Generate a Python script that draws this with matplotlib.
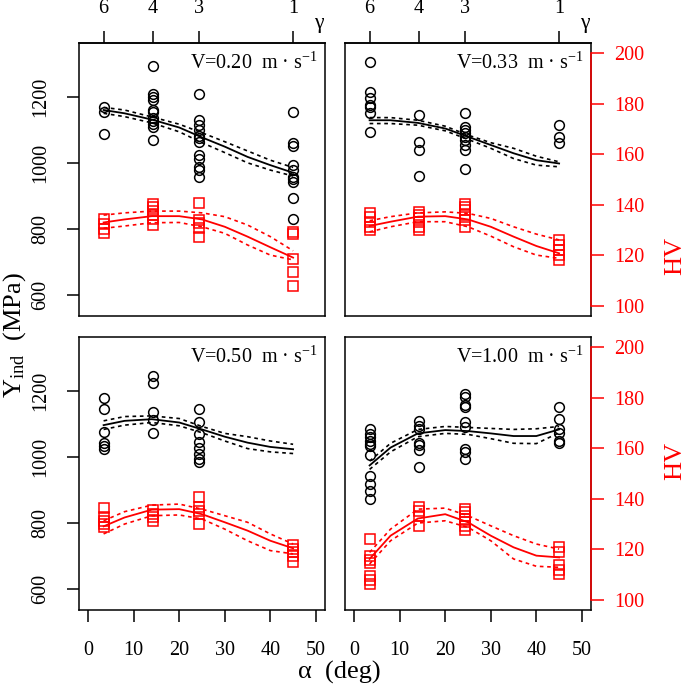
import matplotlib.pyplot as plt

plt.rcParams['font.family'] = ['Liberation Serif', 'DejaVu Serif']
plt.rcParams['mathtext.fontset'] = 'stix'

# attack angle of each indenter and matching gamma
alpha = [3.4, 14.2, 24.4, 45.0]
gamma_labels = ['6', '4', '3', '1']
fit_alpha = [3.4, 8, 14, 20, 25, 30, 35, 40, 45]
speeds = ['0.20', '0.33', '0.50', '1.00']

# ---- V = 0.20 m/s
yind_020 = [[1170, 1155, 1087],
            [1294, 1210, 1200, 1190, 1160, 1155, 1135, 1127, 1119, 1109, 1069],
            [1208, 1131, 1114, 1099, 1081, 1074, 1064, 1024, 1013, 988, 978, 958],
            [1155, 1059, 1051, 993, 978, 958, 950, 943, 894, 829]]
hv_020 = [[134.5, 132.5, 130.5, 128.8],
          [140.5, 139, 137.5, 136, 134.5, 132],
          [140.9, 133.9, 132.6, 130.7, 127.4],
          [129.3, 128.4, 118.7, 113.6, 108.0]]
yfit_020 = [1160, 1150, 1131, 1107, 1077, 1049, 1018, 993, 970]
yfit_020_hi = [1168, 1160, 1139, 1117, 1091, 1064, 1036, 1008, 986]
yfit_020_lo = [1150, 1140, 1121, 1094, 1061, 1031, 1000, 978, 960]
hvfit_020 = [133.0, 134.2, 135.5, 135.5, 134.2, 131.3, 127.4, 123.2, 119.1]
hvfit_020_hi = [135.9, 136.8, 137.5, 137.5, 136.8, 135.3, 132.0, 127.4, 121.8]
hvfit_020_lo = [130.7, 131.6, 132.9, 133.0, 131.3, 128.7, 124.1, 120.1, 118.2]

# ---- V = 0.33 m/s
yind_033 = [[1306, 1215, 1195, 1175, 1168, 1150, 1094],
            [1145, 1064, 1039, 960],
            [1152, 1109, 1099, 1089, 1079, 1069, 1054, 1039, 980],
            [1114, 1079, 1061]]
hv_033 = [[136.6, 135.3, 133.3, 131.3, 130.0],
          [137.2, 135.9, 134.6, 133.3, 131.3, 130.0],
          [140.5, 139.2, 137.9, 135.9, 133.9, 131.3],
          [126.1, 124.1, 122.1, 120.1, 118.2]]
yfit_033 = [1129, 1129, 1121, 1104, 1079, 1054, 1029, 1008, 998]
yfit_033_hi = [1137, 1137, 1129, 1111, 1084, 1061, 1044, 1020, 1003]
yfit_033_lo = [1119, 1119, 1114, 1097, 1071, 1044, 1013, 993, 988]
hvfit_033 = [131.6, 133.3, 135.3, 135.5, 134.2, 131.3, 127.4, 123.7, 120.8]
hvfit_033_hi = [133.7, 135.3, 136.8, 137.2, 136.6, 134.6, 131.3, 128.4, 126.1]
hvfit_033_lo = [129.3, 131.3, 133.3, 133.3, 131.3, 127.6, 123.4, 120.1, 118.8]

# ---- V = 0.50 m/s
yind_050 = [[1177, 1146, 1075, 1041, 1033, 1025],
            [1244, 1223, 1136, 1112, 1073],
            [1146, 1106, 1068, 1045, 1028, 1010, 992, 984],
            []]
hv_050 = [[136.3, 132.6, 131.3, 130.0, 128.7],
          [135.7, 133.9, 132.6, 131.3],
          [140.9, 136.6, 135.3, 133.9, 130.0],
          [121.7, 120.1, 118.8, 117.2, 114.9]]
yfit_050 = [1096, 1109, 1114, 1104, 1083, 1061, 1043, 1030, 1023]
yfit_050_hi = [1109, 1122, 1124, 1116, 1092, 1071, 1061, 1048, 1038]
yfit_050_lo = [1083, 1096, 1104, 1094, 1073, 1048, 1025, 1015, 1010]
hvfit_050 = [129.1, 132.6, 135.7, 135.9, 133.9, 130.7, 127.4, 123.4, 120.4]
hvfit_050_hi = [131.3, 134.9, 137.5, 137.9, 135.9, 133.3, 130.7, 126.1, 122.1]
hvfit_050_lo = [126.1, 130.0, 133.3, 133.6, 132.0, 128.0, 123.4, 119.5, 118.2]

# ---- V = 1.00 m/s
yind_100 = [[1083, 1068, 1061, 1048, 1038, 1033, 1007, 942, 919, 896, 873],
            [1109, 1094, 1085, 1043, 1035, 1021, 969],
            [1190, 1180, 1156, 1152, 1104, 1089, 1023, 1015, 994],
            [1151, 1114, 1085, 1073, 1048, 1041]]
hv_100 = [[124.1, 117.2, 115.9, 114.6, 109.6, 108.0, 106.3],
          [136.6, 135.3, 133.3, 129.3],
          [135.9, 134.6, 133.3, 132.0, 130.7, 129.3, 127.8],
          [120.8, 118.8, 113.8, 112.0, 110.3]]
yfit_100 = [974, 1028, 1071, 1081, 1078, 1071, 1063, 1063, 1083]
yfit_100_hi = [987, 1041, 1083, 1092, 1089, 1086, 1083, 1085, 1092]
yfit_100_lo = [962, 1015, 1061, 1071, 1068, 1055, 1041, 1040, 1073]
hvfit_100 = [116.2, 125.4, 132.2, 133.9, 130.7, 125.4, 120.8, 117.5, 116.8]
hvfit_100_hi = [118.8, 128.0, 135.9, 136.3, 133.3, 129.3, 125.4, 122.1, 120.1]
hvfit_100_lo = [114.2, 123.4, 130.4, 131.3, 128.7, 123.4, 116.2, 113.3, 112.9]

yind = [yind_020, yind_033, yind_050, yind_100]
hv = [hv_020, hv_033, hv_050, hv_100]
yfit = [(yfit_020, yfit_020_hi, yfit_020_lo), (yfit_033, yfit_033_hi, yfit_033_lo),
        (yfit_050, yfit_050_hi, yfit_050_lo), (yfit_100, yfit_100_hi, yfit_100_lo)]
hvfit = [(hvfit_020, hvfit_020_hi, hvfit_020_lo), (hvfit_033, hvfit_033_hi, hvfit_033_lo),
         (hvfit_050, hvfit_050_hi, hvfit_050_lo), (hvfit_100, hvfit_100_hi, hvfit_100_lo)]

W, H = 685, 692
fig = plt.figure(figsize=(W / 100, H / 100), dpi=100)
RED = '#ff0000'
fs = 14.5
dots = (0, (2.2, 2.2))

boxes = [(79, 43), (345, 43), (79, 337), (345, 337)]
bw, bh = 246, 273

for i in range(4):
    x0, y0 = boxes[i]
    ax = fig.add_axes([x0 / W, 1 - (y0 + bh) / H, bw / W, bh / H])
    ax2 = ax.twinx()
    top_row = i < 2
    left_col = i % 2 == 0

    for a, ys in zip(alpha, yind[i]):
        ax.plot([a] * len(ys), ys, 'o', mfc='none', mec='black', ms=7, mew=1.1)
    ax.plot(fit_alpha, yfit[i][0], color='black', lw=1.3)
    ax.plot(fit_alpha, yfit[i][1], color='black', lw=1.2, ls=dots)
    ax.plot(fit_alpha, yfit[i][2], color='black', lw=1.2, ls=dots)

    for a, hs in zip(alpha, hv[i]):
        ax2.plot([a] * len(hs), hs, 's', mfc='none', mec=RED, ms=7, mew=1.1)
    ax2.plot(fit_alpha, hvfit[i][0], color=RED, lw=1.3)
    ax2.plot(fit_alpha, hvfit[i][1], color=RED, lw=1.2, ls=dots)
    ax2.plot(fit_alpha, hvfit[i][2], color=RED, lw=1.2, ls=dots)

    ax.set_xlim(-2, 52)
    ax.set_ylim(536, 1363)
    ax2.set_ylim(96, 204)
    for s in ax.spines.values():
        s.set_linewidth(1.1)
    for s in ax2.spines.values():
        s.set_visible(False)

    ax.set_xticks([0, 10, 20, 30, 40, 50])
    ax.tick_params(axis='x', direction='out', length=8.5, width=1.1, pad=14,
                   labelsize=fs, bottom=not top_row, labelbottom=not top_row)
    ax.set_yticks([600, 800, 1000, 1200])
    ax.tick_params(axis='y', direction='out', length=8.5, width=1.1, pad=12,
                   labelsize=fs, left=left_col, labelleft=left_col, labelrotation=90)
    for lab in ax.get_yticklabels():
        lab.set_verticalalignment('center')

    ax2.set_yticks([100, 120, 140, 160, 180, 200])
    if left_col:
        ax2.tick_params(axis='y', right=False, labelright=False)
    else:
        ax2.spines['right'].set_visible(True)
        ax2.spines['right'].set_bounds(100, 200)
        ax2.spines['right'].set_color(RED)
        ax2.spines['right'].set_linewidth(1.1)
        ax2.tick_params(axis='y', direction='out', length=9, width=1.1, pad=8,
                        labelsize=fs, colors=RED)

    if top_row:
        sec = ax.secondary_xaxis('top')
        sec.set_xticks(alpha)
        sec.set_xticklabels(gamma_labels)
        sec.tick_params(direction='out', length=9, width=1.1, pad=9, labelsize=fs)
        sec.spines['top'].set_linewidth(1.1)
        ax.text(0.975, 1.07, 'γ', transform=ax.transAxes, fontsize=fs + 1,
                ha='center', va='center')

    ax.text(0.97, 0.925, 'V=' + speeds[i] + r'  m · s$^{\mathregular{-1}}$',
            transform=ax.transAxes, fontsize=14.5, ha='right', va='center')

fig.text(15 / W, 1 - 335 / H, r'Y$_{\mathregular{ind}}$  (MPa)', rotation=90,
         fontsize=19, ha='center', va='center')
fig.text(339 / W, 1 - 672 / H, 'α  (deg)', fontsize=19, ha='center', va='center')
fig.text(675 / W, 1 - 256 / H, 'HV', rotation=90, fontsize=19, color=RED,
         ha='center', va='center')
fig.text(675 / W, 1 - 461 / H, 'HV', rotation=90, fontsize=19, color=RED,
         ha='center', va='center')

fig.savefig('out.png', dpi=100)
